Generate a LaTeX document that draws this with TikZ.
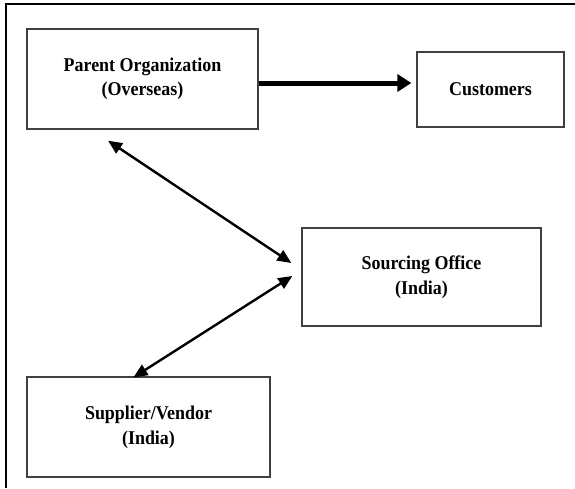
\documentclass[tikz,border=0pt]{standalone}
\usepackage{fontspec}
\setmainfont{Liberation Serif}
\newfontfamily\boxfont[FakeStretch = 0.92]{Liberation Serif}
\usetikzlibrary{arrows.meta}

\begin{document}
\begin{tikzpicture}[x = 1pt, y = -1pt]
	\tikzstyle{boxStyle} = [shape = rectangle, draw = black!75, line width = 1.3pt, inner sep = 0pt, align = center, font = \boxfont\fontsize{19.5}{25}\selectfont\bfseries]
	\tikzstyle{mainArrowStyle} = [line width = 5pt, -{Triangle[length = 14pt, width = 17pt]}]
	\tikzstyle{linkArrowStyle} = [line width = 2.4pt, {Triangle[length = 14pt, width = 12pt]}-{Triangle[length = 14pt, width = 12pt]}]
	\useasboundingbox (0, 0) rectangle (575, 488);
	\draw[line width = 2pt] (6, 488) -- (6, 4) -- (575, 4);
	\node[boxStyle, minimum width = 231pt, minimum height = 100pt] (parent) at (142.5, 79) {\raisebox{-4pt}{\shortstack{Parent Organization\\[3pt](Overseas)}}};
	\node[boxStyle, minimum width = 147pt, minimum height = 75pt] (cust) at (490.5, 89.5) {Customers};
	\node[boxStyle, minimum width = 239pt, minimum height = 98pt] (src) at (421.5, 277) {Sourcing Office\\(India)};
	\node[boxStyle, minimum width = 243pt, minimum height = 100pt] (supp) at (148.5, 427) {Supplier/Vendor\\(India)};
	\draw[mainArrowStyle] ([yshift = -4pt]parent.east) -- ([xshift = -5pt, yshift = 6.5pt]cust.west);
	\draw[linkArrowStyle] ([xshift = -34.5pt, yshift = -11pt]parent.south) -- ([xshift = -10pt, yshift = 14pt]src.west);
	\draw[linkArrowStyle] ([xshift = -15pt, yshift = -1pt]supp.north) -- ([xshift = -9pt, yshift = 1pt]src.west);
\end{tikzpicture}
\end{document}
